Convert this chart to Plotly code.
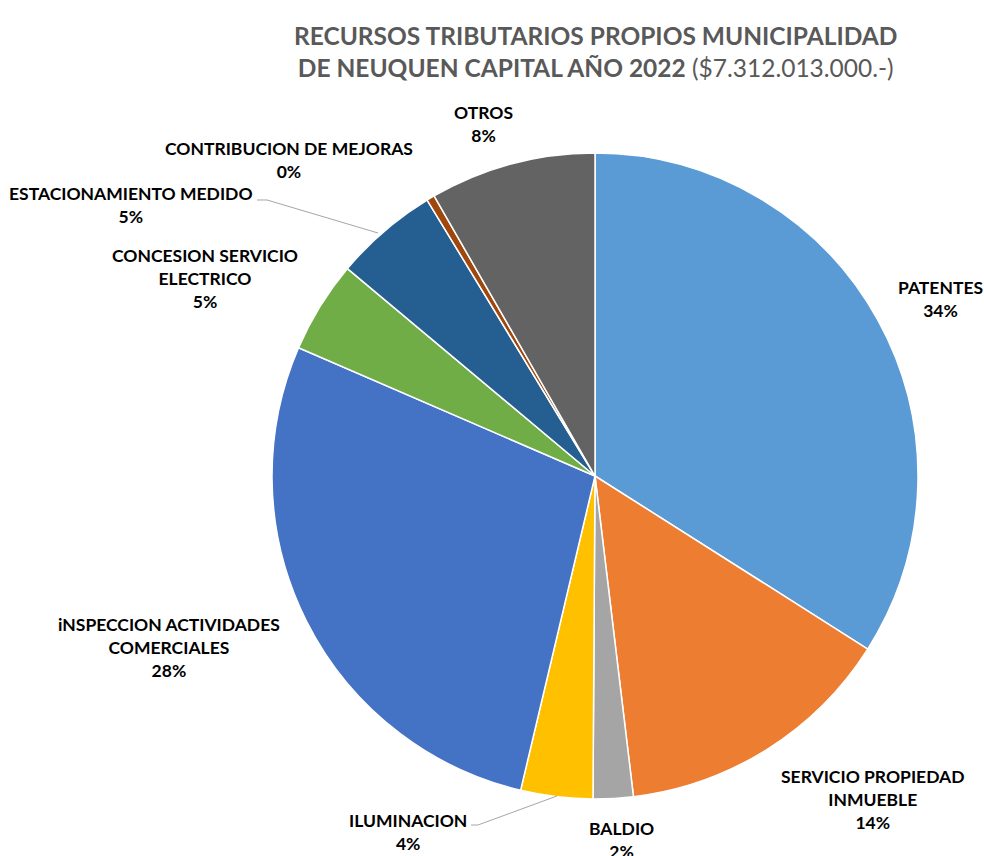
import plotly.graph_objects as go

W, H = 984, 856

categories = ["PATENTES", "SERVICIO PROPIEDAD INMUEBLE", "BALDIO", "ILUMINACION",
              "iNSPECCION ACTIVIDADES COMERCIALES", "CONCESION SERVICIO ELECTRICO",
              "ESTACIONAMIENTO MEDIDO", "CONTRIBUCION DE MEJORAS", "OTROS"]
display_labels = ["PATENTES", "SERVICIO PROPIEDAD<br>INMUEBLE", "BALDIO", "ILUMINACION",
                  "iNSPECCION ACTIVIDADES<br>COMERCIALES", "CONCESION SERVICIO<br>ELECTRICO",
                  "ESTACIONAMIENTO MEDIDO", "CONTRIBUCION DE MEJORAS", "OTROS"]
values = [34.0, 14.1, 2.0, 3.6, 27.8, 4.6, 5.2, 0.4, 8.3]
colors = ["#5B9BD5", "#ED7D31", "#A5A5A5", "#FFC000", "#4472C4",
          "#70AD47", "#255E91", "#9E480E", "#636363"]

# label centre positions in pixels (x, y from top)
label_pos = [(940, 299), (873, 799), (621, 840), (408, 832), (169, 647),
             (205, 278), (131, 205), (289, 160), (483, 124)]

cx, cy, r = 595, 476, 323

fig = go.Figure(go.Pie(
    labels=categories, values=values, sort=False, direction="clockwise",
    rotation=0, textinfo="none", hoverinfo="label+percent",
    marker=dict(colors=colors, line=dict(color="white", width=1.5)),
    domain=dict(x=[(cx - r) / W, (cx + r) / W],
                y=[(H - cy - r) / H, (H - cy + r) / H]),
    showlegend=False,
))

total = sum(values)
annotations = []
for lab, v, (px, py) in zip(display_labels, values, label_pos):
    pct = round(v / total * 100)
    annotations.append(dict(
        x=px / W, y=1 - py / H, xref="paper", yref="paper",
        text=f"<b>{lab}<br>{pct}%</b>", showarrow=False,
        xanchor="center", yanchor="middle", align="center",
        font=dict(family="Lato, 'Open Sans', sans-serif", size=17.5, color="#000000"),
    ))

annotations.append(dict(
    x=595 / W, y=1 - 52 / H, xref="paper", yref="paper",
    text="<b>RECURSOS TRIBUTARIOS PROPIOS MUNICIPALIDAD</b><br><b>DE NEUQUEN CAPITAL AÑO 2022</b> ($7.312.013.000.-)",
    showarrow=False, xanchor="center", yanchor="middle", align="center",
    font=dict(family="Lato, 'Open Sans', sans-serif", size=24.5, color="#595959"),
))

def line_path(pts):
    s = "M " + " L ".join(f"{x / W:.5f},{1 - y / H:.5f}" for x, y in pts)
    return dict(type="path", path=s, xref="paper", yref="paper",
                line=dict(color="#A6A6A6", width=1))

shapes = [
    line_path([(257, 200), (267, 200), (378, 233)]),
    line_path([(471, 825), (478, 825), (557, 796)]),
]

fig.update_layout(
    width=W, height=H, margin=dict(l=0, r=0, t=0, b=0),
    paper_bgcolor="white", plot_bgcolor="white",
    annotations=annotations, shapes=shapes,
)

fig.write_html("out.html", config={"displayModeBar": False},
               post_script="document.body.style.margin='0px';document.body.style.overflow='hidden';")
